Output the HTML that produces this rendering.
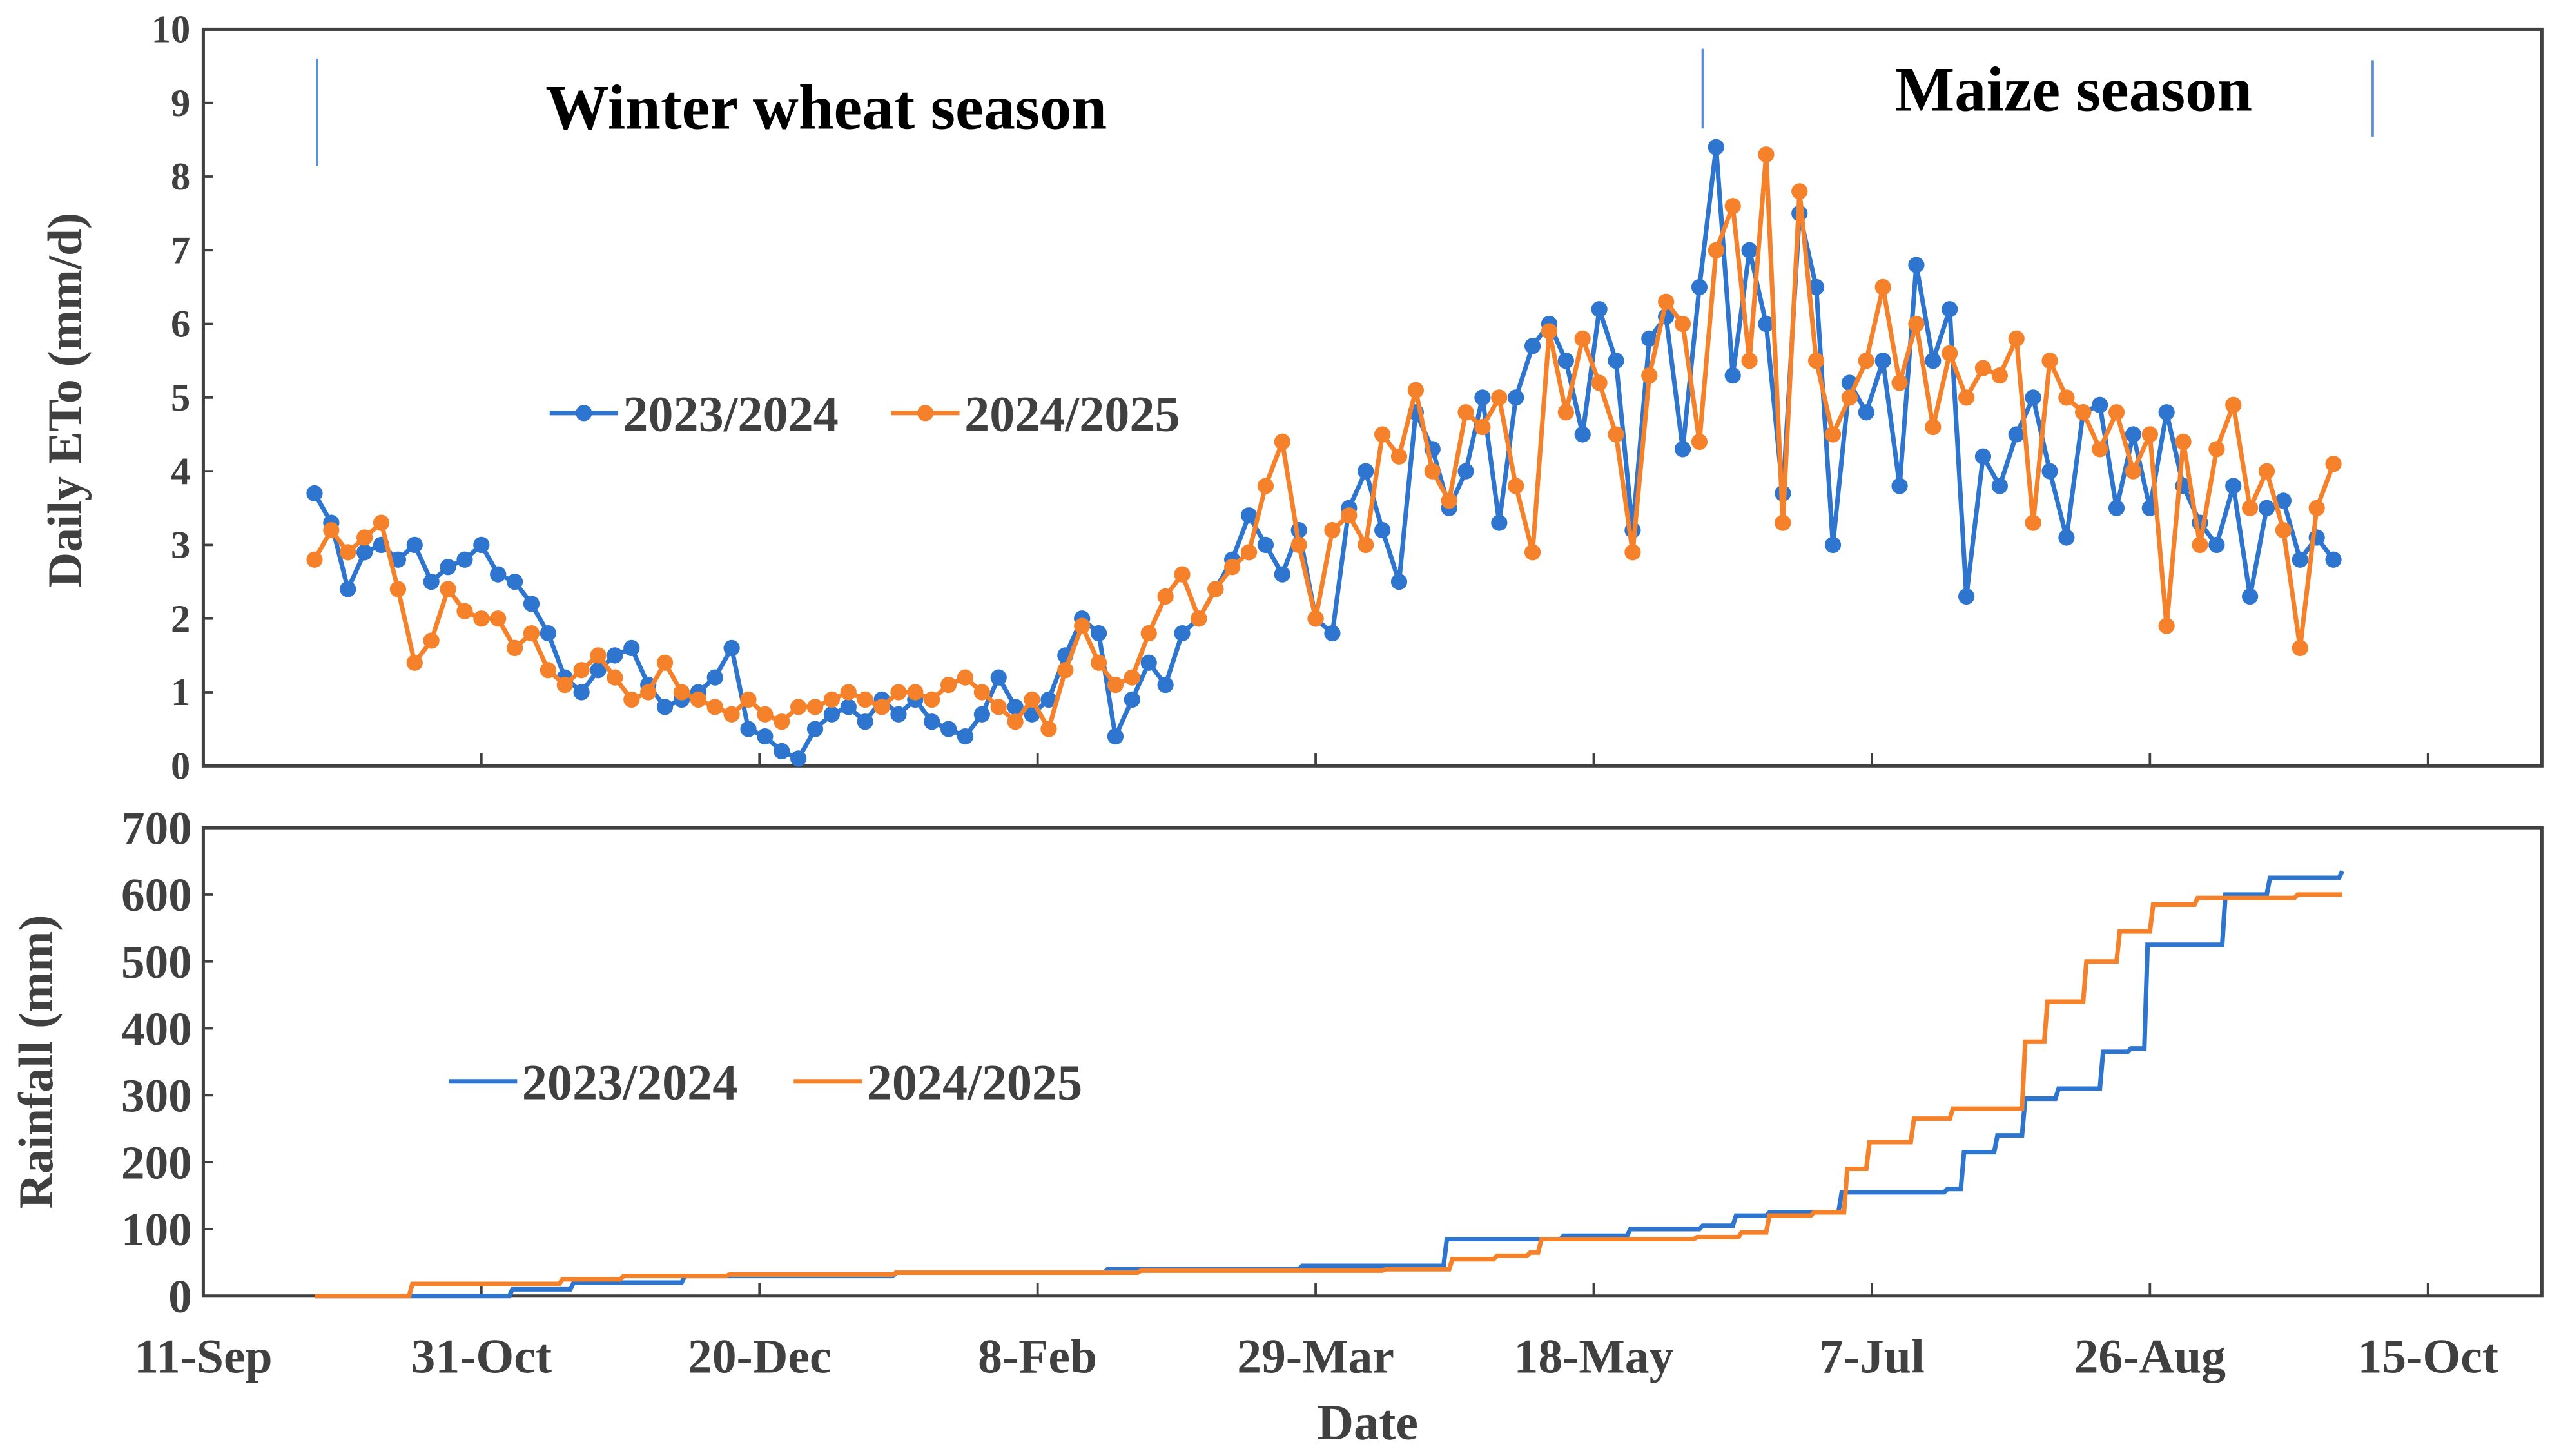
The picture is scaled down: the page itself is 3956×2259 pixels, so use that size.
<!DOCTYPE html>
<html><head><meta charset="utf-8"><style>
html,body{margin:0;padding:0;background:#fff;}
svg{display:block;}
text{font-family:"Liberation Serif",serif;font-weight:bold;fill:#404040;}
</style></head><body>
<svg id="chart" xmlns="http://www.w3.org/2000/svg" width="3956" height="2259" viewBox="0 0 1568 895.4">
<rect x="0" y="0" width="1568" height="895.4" fill="#fff"/>
<g id="topPanel"></g>
<g id="bottomPanel"></g>
</svg>
<script>
// ---- data ----
const xTickLabels = ["11-Sep","31-Oct","20-Dec","8-Feb","29-Mar","18-May","7-Jul","26-Aug","15-Oct"];
const etoTicks = [0,1,2,3,4,5,6,7,8,9,10];
const rainTicks = [0,100,200,300,400,500,600,700];
const etoStartDay = 20; // days after 11-Sep
const etoStep = 3;
const eto2324 = [3.7,3.3,2.4,2.9,3.0,2.8,3.0,2.5,2.7,2.8,3.0,
 2.6,2.5,2.2,1.8,1.2,1.0,1.3,1.5,1.6,1.1,
 0.8,0.9,1.0,1.2,1.6,0.5,0.4,0.2,0.1,0.5,
 0.7,0.8,0.6,0.9,0.7,0.9,0.6,0.5,0.4,0.7,
 1.2,0.8,0.7,0.9,1.5,2.0,1.8,0.4,0.9,1.4,
 1.1,1.8,2.0,2.4,2.8,3.4,3.0,2.6,3.2,2.0,
 1.8,3.5,4.0,3.2,2.5,4.8,4.3,3.5,4.0,5.0,
 3.3,5.0,5.7,6.0,5.5,4.5,6.2,5.5,3.2,5.8,
 6.1,4.3,6.5,8.4,5.3,7.0,6.0,3.7,7.5,6.5,
 3.0,5.2,4.8,5.5,3.8,6.8,5.5,6.2,2.3,4.2,
 3.8,4.5,5.0,4.0,3.1,4.8,4.9,3.5,4.5,3.5,
 4.8,3.8,3.3,3.0,3.8,2.3,3.5,3.6,2.8,3.1,2.8];
const eto2425 = [2.8,3.2,2.9,3.1,3.3,2.4,1.4,1.7,2.4,2.1,2.0,
 2.0,1.6,1.8,1.3,1.1,1.3,1.5,1.2,0.9,1.0,
 1.4,1.0,0.9,0.8,0.7,0.9,0.7,0.6,0.8,0.8,
 0.9,1.0,0.9,0.8,1.0,1.0,0.9,1.1,1.2,1.0,
 0.8,0.6,0.9,0.5,1.3,1.9,1.4,1.1,1.2,1.8,
 2.3,2.6,2.0,2.4,2.7,2.9,3.8,4.4,3.0,2.0,
 3.2,3.4,3.0,4.5,4.2,5.1,4.0,3.6,4.8,4.6,
 5.0,3.8,2.9,5.9,4.8,5.8,5.2,4.5,2.9,5.3,
 6.3,6.0,4.4,7.0,7.6,5.5,8.3,3.3,7.8,5.5,
 4.5,5.0,5.5,6.5,5.2,6.0,4.6,5.6,5.0,5.4,
 5.3,5.8,3.3,5.5,5.0,4.8,4.3,4.8,4.0,4.5,
 1.9,4.4,3.0,4.3,4.9,3.5,4.0,3.2,1.6,3.5,4.1];
const rainDays2324 = [20,55,66,86,124,162,197,223,244,256,269,275,281,294,313,316,322,327,333,341,346,349,363,371,384];
const rainVals2324 = [0,10,20,30,35,40,45,85,90,100,105,120,125,155,160,215,240,295,310,365,370,525,600,625,635];
const rainDays2425 = [20,37,64,75,94,124,168,212,224,232,238,240,268,276,281,289,295,299,307,314,327,331,338,344,350,358,376,384];
const rainVals2425 = [0,18,25,30,32,35,38,40,55,60,65,85,88,95,120,125,190,230,265,280,380,440,500,545,585,595,600,600];

const NS="http://www.w3.org/2000/svg";
const BLUE="#2e75d0", ORANGE="#f5822a", AX="#404040";
const L=125,R=1563;
const xs = d => L + d*3.42;
const yTop = v => 471 - v*45.3;
const yBot = v => 797 - v*(288/700);
function mk(tag, attrs, parent, txt){const e=document.createElementNS(NS,tag);for(const k in attrs)e.setAttribute(k,attrs[k]);if(txt!==undefined)e.textContent=txt;parent.appendChild(e);return e;}
const gTop=document.getElementById('topPanel'), gBot=document.getElementById('bottomPanel');

let f1=mk('rect',{x:L,y:18,width:R-L,height:453,fill:'none',stroke:AX,'stroke-width':2},gTop);


let f2=mk('rect',{x:L,y:509,width:R-L,height:288,fill:'none',stroke:AX,'stroke-width':2},gBot);



etoTicks.forEach(v=>{
 const t=mk('text',{x:117,y:yTop(v)+8,'text-anchor':'end','font-size':24},gTop,String(v));
 
 
 mk('line',{x1:L,x2:L+6,y1:yTop(v),y2:yTop(v),stroke:AX,'stroke-width':1.5},gTop);
});
rainTicks.forEach(v=>{
 const t=mk('text',{x:118,y:yBot(v)+10,'text-anchor':'end','font-size':29},gBot,String(v));
 
 
 mk('line',{x1:L,x2:L+6,y1:yBot(v),y2:yBot(v),stroke:AX,'stroke-width':1.5},gBot);
});
xTickLabels.forEach((lab,i)=>{
 const x=xs(i*50);
 mk('line',{x1:x,x2:x,y1:463,y2:471,stroke:AX,'stroke-width':1.5},gTop);
 mk('line',{x1:x,x2:x,y1:789,y2:797,stroke:AX,'stroke-width':1.5},gBot);
 const t=mk('text',{x:x,y:844,'text-anchor':'middle','font-size':30},gBot,lab);
 
 
});
let t;
t=mk('text',{x:841,y:885,'text-anchor':'middle','font-size':31},gBot,'Date');


t=mk('text',{x:0,y:0,'text-anchor':'middle','font-size':30,transform:'translate(50,246) rotate(-90)'},gTop,'Daily ETo (mm/d)');


t=mk('text',{x:0,y:0,'text-anchor':'middle','font-size':30,transform:'translate(32,653) rotate(-90)'},gBot,'Rainfall (mm)');



t=mk('text',{x:508,y:79,'text-anchor':'middle','font-size':39,style:'fill:#000'},gTop,'Winter wheat season');


t=mk('text',{x:1275,y:68,'text-anchor':'middle','font-size':39,style:'fill:#000'},gTop,'Maize season');


[[195,36,102],[1047,30,79],[1459,37,84]].forEach(s=>{
 const l=mk('line',{x1:s[0],x2:s[0],y1:s[1],y2:s[2],stroke:'#5b8fd6','stroke-width':1.5},gTop);
 
 
});

function etoSeries(vals,color,name){
 const g=mk('g',{},gTop);
 
 
 const pts=vals.map((v,i)=>[xs(etoStartDay+i*etoStep),yTop(v)]);
 mk('polyline',{points:pts.map(p=>p.join(',')).join(' '),fill:'none',stroke:color,'stroke-width':2.8},g);
 pts.forEach(p=>mk('circle',{cx:p[0],cy:p[1],r:5,fill:color},g));
}
etoSeries(eto2324,BLUE,'eto-series-2023-2024');
etoSeries(eto2425,ORANGE,'eto-series-2024-2025');

function rainSeries(days,vals,color,name){
 let d='M'+xs(days[0])+','+yBot(vals[0]);
 for(let i=1;i<days.length;i++){d+=' L'+xs(days[i])+','+yBot(vals[i-1])+' L'+(xs(days[i])+2)+','+yBot(vals[i]);}
 const p=mk('path',{d:d,fill:'none',stroke:color,'stroke-width':2.8},gBot);
 
 
}
rainSeries(rainDays2324,rainVals2324,BLUE,'rain-series-2023-2024');
rainSeries(rainDays2425,rainVals2425,ORANGE,'rain-series-2024-2025');

function legend(parent,x,y,color,label,marker,name){
 const g=mk('g',{},parent);
 
 
 mk('line',{x1:x,x2:x+42,y1:y,y2:y,stroke:color,'stroke-width':2.8},g);
 if(marker)mk('circle',{cx:x+21,cy:y,r:5,fill:color},g);
 mk('text',{x:x+45,y:y+11,'font-size':31},g,label);
}
legend(gTop,338,254,BLUE,'2023/2024',true,'legend-entry-2023-2024');
legend(gTop,548,254,ORANGE,'2024/2025',true,'legend-entry-2024-2025');
legend(gBot,276,665,BLUE,'2023/2024',false,'rain-legend-entry-2023-2024');
legend(gBot,488,665,ORANGE,'2024/2025',false,'rain-legend-entry-2024-2025');
</script>
</body></html>
